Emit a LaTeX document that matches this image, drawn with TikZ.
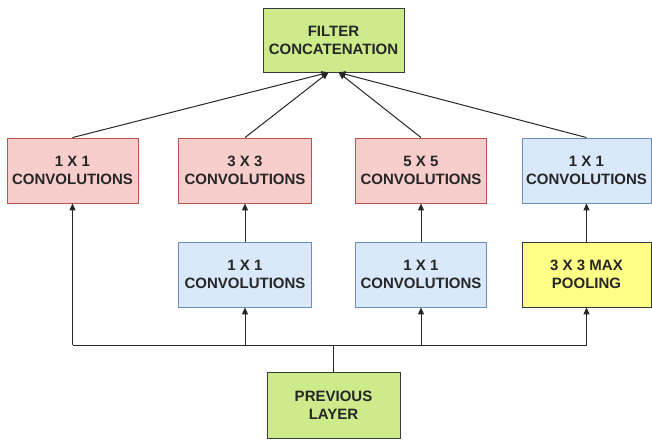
\documentclass[tikz,border=0pt]{standalone}
\usepackage{fontspec}
\setmainfont{Liberation Sans}
\usetikzlibrary{arrows.meta}
\definecolor{gfill}{HTML}{CDEB8B}
\definecolor{gdraw}{HTML}{36393D}
\definecolor{rfill}{HTML}{F8CECC}
\definecolor{rdraw}{HTML}{B85450}
\definecolor{bfill}{HTML}{DAE8FC}
\definecolor{bdraw}{HTML}{6C8EBF}
\definecolor{yfill}{HTML}{FFFF88}
\definecolor{txt}{HTML}{262626}
\begin{document}
\begin{tikzpicture}[x=1pt,y=-1pt,
  box/.style={draw, line width=0.9pt, minimum width=131pt, minimum height=65pt, inner sep=0pt,
    align=center, font=\bfseries\fontsize{15}{18}\selectfont, text=txt},
  green/.style={box, fill=gfill, draw=gdraw},
  red/.style={box, fill=rfill, draw=rdraw},
  blue/.style={box, fill=bfill, draw=bdraw},
  yellow/.style={box, fill=yfill, draw=gdraw},
  conn/.style={line width=1pt, black!85, -{Triangle[length=7pt,width=6pt]}},
  plain/.style={line width=1pt, black!85}]
\useasboundingbox (0,0) rectangle (652,439);
\node[green, minimum width=141pt, minimum height=64pt] (filt) at (333.5,40) {FILTER\\CONCATENATION};
\node[red] (a1) at (72.5,170.5) {1 X 1\\CONVOLUTIONS};
\node[red, minimum width=133pt] (a2) at (245,170.5) {3 X 3\\CONVOLUTIONS};
\node[red] (a3) at (421,170.5) {5 X 5\\CONVOLUTIONS};
\node[blue, minimum width=129pt] (a4) at (586.5,170.5) {1 X 1\\CONVOLUTIONS};
\node[blue, minimum width=133pt] (b2) at (245,274.5) {1 X 1\\CONVOLUTIONS};
\node[blue] (b3) at (421,274.5) {1 X 1\\CONVOLUTIONS};
\node[yellow, minimum width=129pt] (b4) at (586.5,274.5) {3 X 3 MAX\\POOLING};
\node[green, minimum width=133pt, minimum height=66pt] (prev) at (333.5,405) {PREVIOUS\\LAYER};
\coordinate (j0) at (333.5,345);
\coordinate (j1) at (72.5,345);
\coordinate (j2) at (245,345);
\coordinate (j3) at (421,345);
\coordinate (j4) at (586.5,345);
\draw[plain] (prev.north) -- (j0);
\draw[plain] (j1) -- (j4);
\draw[conn] (j1) -- (a1.south);
\draw[conn] (j2) -- (b2.south);
\draw[conn] (j3) -- (b3.south);
\draw[conn] (j4) -- (b4.south);
\draw[conn] (b2.north) -- (a2.south);
\draw[conn] (b3.north) -- (a3.south);
\draw[conn] (b4.north) -- (a4.south);
\draw[conn] (a1.north) -- ([xshift=-5pt]filt.south);
\draw[conn] (a2.north) -- ([xshift=-5pt]filt.south);
\draw[conn] (a3.north) -- ([xshift=5pt]filt.south);
\draw[conn] (a4.north) -- ([xshift=5pt]filt.south);
\end{tikzpicture}
\end{document}
